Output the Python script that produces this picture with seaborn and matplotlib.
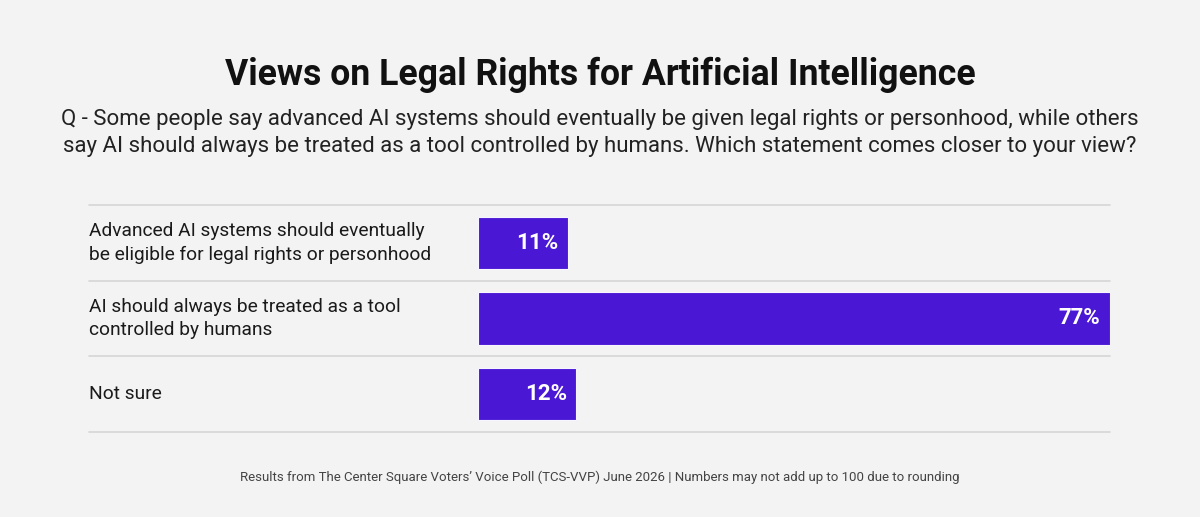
import matplotlib
matplotlib.use("Agg")
import matplotlib.pyplot as plt
import seaborn as sns
import pandas as pd

categories = [
    "Advanced AI systems should eventually\nbe eligible for legal rights or personhood",
    "AI should always be treated as a tool\ncontrolled by humans",
    "Not sure",
]
values = [11, 77, 12]
value_labels = ["11%", "77%", "12%"]

title = "Views on Legal Rights for Artificial Intelligence"
subtitle = ("Q - Some people say advanced AI systems should eventually be given legal rights or personhood, while others\n"
            "say AI should always be treated as a tool controlled by humans. Which statement comes closer to your view?")
footer = "Results from The Center Square Voters\u2019 Voice Poll (TCS-VVP) June 2026 | Numbers may not add up to 100 due to rounding"

BG = "#f3f3f3"
BAR = "#4a17d4"

sns.set_theme(style="white")
plt.rcParams["font.family"] = ["Roboto", "DejaVu Sans"]

df = pd.DataFrame({"cat": categories, "val": values})

W, H = 1200, 517
fig = plt.figure(figsize=(12, 5.17), dpi=100, facecolor=BG)
x0, x1 = 478, 1110
y_top, y_bot = 205, 432
ax = fig.add_axes([x0 / W, 1 - y_bot / H, (x1 - x0) / W, (y_bot - y_top) / H])
ax.set_facecolor(BG)

sns.barplot(data=df, x="val", y="cat", orient="h", color=BAR, width=0.69,
            saturation=1, ax=ax, edgecolor="#f7f5ff", linewidth=0.8)
ax.set_xlim(0, 77)
ax.set_ylim(2.5, -0.5)
for s in ax.spines.values():
    s.set_visible(False)
ax.set_xticks([])
ax.set_yticks([])
ax.set_xlabel("")
ax.set_ylabel("")

# row separators
xmin = (89 - x0) / (x1 - x0)
for yb in [-0.5, 0.5, 1.5, 2.5]:
    ax.axhline(yb, xmin=xmin, xmax=1.0, color="#d6d6d6", lw=1.2, clip_on=False, zorder=0)

# category labels
for i, c in enumerate(categories):
    ax.text(xmin, i, c, transform=ax.get_yaxis_transform(), ha="left", va="center",
            fontsize=13.8, color="#1a1a1a", linespacing=1.4)

# value labels
for i, (v, lab) in enumerate(zip(values, value_labels)):
    ax.annotate(lab, xy=(v, i), xytext=(-7, 0), textcoords="offset points",
                ha="right", va="center", fontsize=16, fontweight="bold", color="white")

fig.text(0.5, 1 - 75 / H, title, ha="center", va="center", fontsize=25.7,
         fontweight="bold", color="#111111")
fig.text(0.5, 1 - 133 / H, subtitle, ha="center", va="center", fontsize=16,
         color="#222222", linespacing=1.32)
fig.text(0.5, 1 - 477 / H, footer, ha="center", va="center", fontsize=9.5,
         color="#444444")

fig.savefig("out.png", dpi=100, facecolor=BG)
